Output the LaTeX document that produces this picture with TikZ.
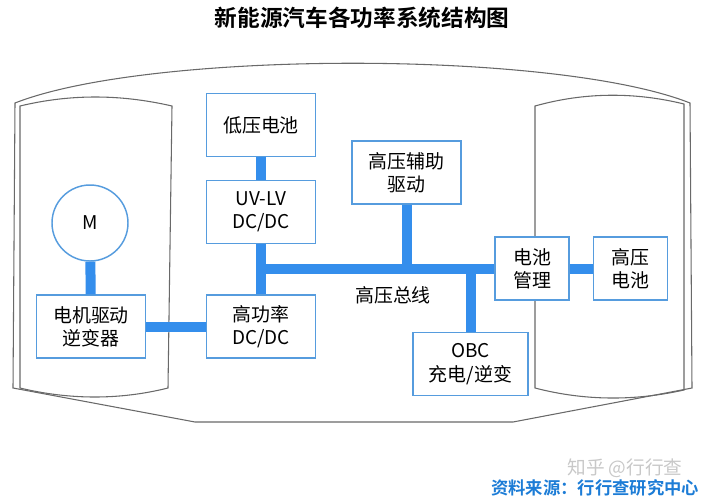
\documentclass[tikz,border=0pt]{standalone}
\usepackage{fontspec}
\setmainfont{Noto Sans CJK SC}[BoldFont={Noto Sans CJK SC Bold}]
\usetikzlibrary{calc}
\definecolor{busblue}{RGB}{52,142,236}
\definecolor{boxborder}{RGB}{86,156,222}
\definecolor{bodygray}{RGB}{105,105,105}
\definecolor{srcblue}{RGB}{28,124,214}
\definecolor{markgray}{RGB}{200,200,200}

\begin{document}
\begin{tikzpicture}[
  x=0.75pt, y=-0.75pt,
  every node/.style={font=\fontsize{14.2}{17.5}\selectfont},
  box/.style={rectangle, draw=boxborder, line width=1.1pt, fill=white,
    align=center, minimum width=82pt, minimum height=47pt, inner sep=0pt},
  smallbox/.style={box, minimum width=55.5pt},
  motor/.style={circle, draw=boxborder, line width=1.1pt, fill=white,
    minimum size=57pt, inner sep=0pt},
  bar/.style={line width=7.5pt, color=busblue},
  body/.style={line width=0.8pt, color=bodygray}
]
  \useasboundingbox (0,0) rectangle (706,500);

  % car body and wheel panels
  \draw[body] (15,103) .. controls (150,50) and (556,50) .. (690,103)
    -- (692,388) -- (513,422) -- (195,422) -- (13,388) -- cycle;
  \draw[body] (20,106) .. controls (70,94) and (120,94) .. (172,106)
    -- (168,388) .. controls (120,400) and (70,400) .. (20,388) -- cycle;
  \draw[body] (535,106) .. controls (585,92) and (635,92) .. (684,104)
    -- (684,390) .. controls (635,401) and (585,401) .. (535,388) -- cycle;

  \node[font=\fontsize{17}{20}\selectfont\bfseries] (title) at (362,18) {新能源汽车各功率系统结构图};

  \node[motor] (motor) at (90,223) {M};
  \node[box] (inv) at (91,326.5) {电机驱动\\逆变器};
  \node[box] (lvbat) at (261,125) {低压电池};
  \node[box] (dcdc) at (261,212) {UV-LV\\DC/DC};
  \node[box] (hpdc) at (261,326.5) {高功率\\DC/DC};
  \node[box] (aux) at (406.5,172.5) {高压辅助\\驱动};
  \node[box, minimum width=86pt] (obc) at (470.5,364) {OBC\\充电/逆变};
  \node[smallbox] (bms) at (532,268.5) {电池\\管理};
  \node[smallbox] (hvbat) at (630.5,268.5) {高压\\电池};
  \node (buslabel) at (393,295) {高压总线};

  \foreach \f/\t in {motor/inv,inv/hpdc,lvbat/dcdc,dcdc/hpdc,bms/hvbat} {
    \draw[bar] (\f) -- (\t);
  }
  % high-voltage bus
  \coordinate (busl) at (dcdc.south |- bms.west);
  \draw[bar] (busl) -- (bms.west);
  \draw[bar] (aux.south) -- (aux.south |- busl);
  \draw[bar] (obc.north) -- (obc.north |- busl);

  \node[text=markgray, font=\fontsize{14}{16}\selectfont] (mark) at (625,468) {知乎 @行行查};
  \node[text=srcblue, font=\fontsize{13}{15}\selectfont\bfseries] (source) at (595,488) {资料来源：行行查研究中心};
\end{tikzpicture}
\end{document}
